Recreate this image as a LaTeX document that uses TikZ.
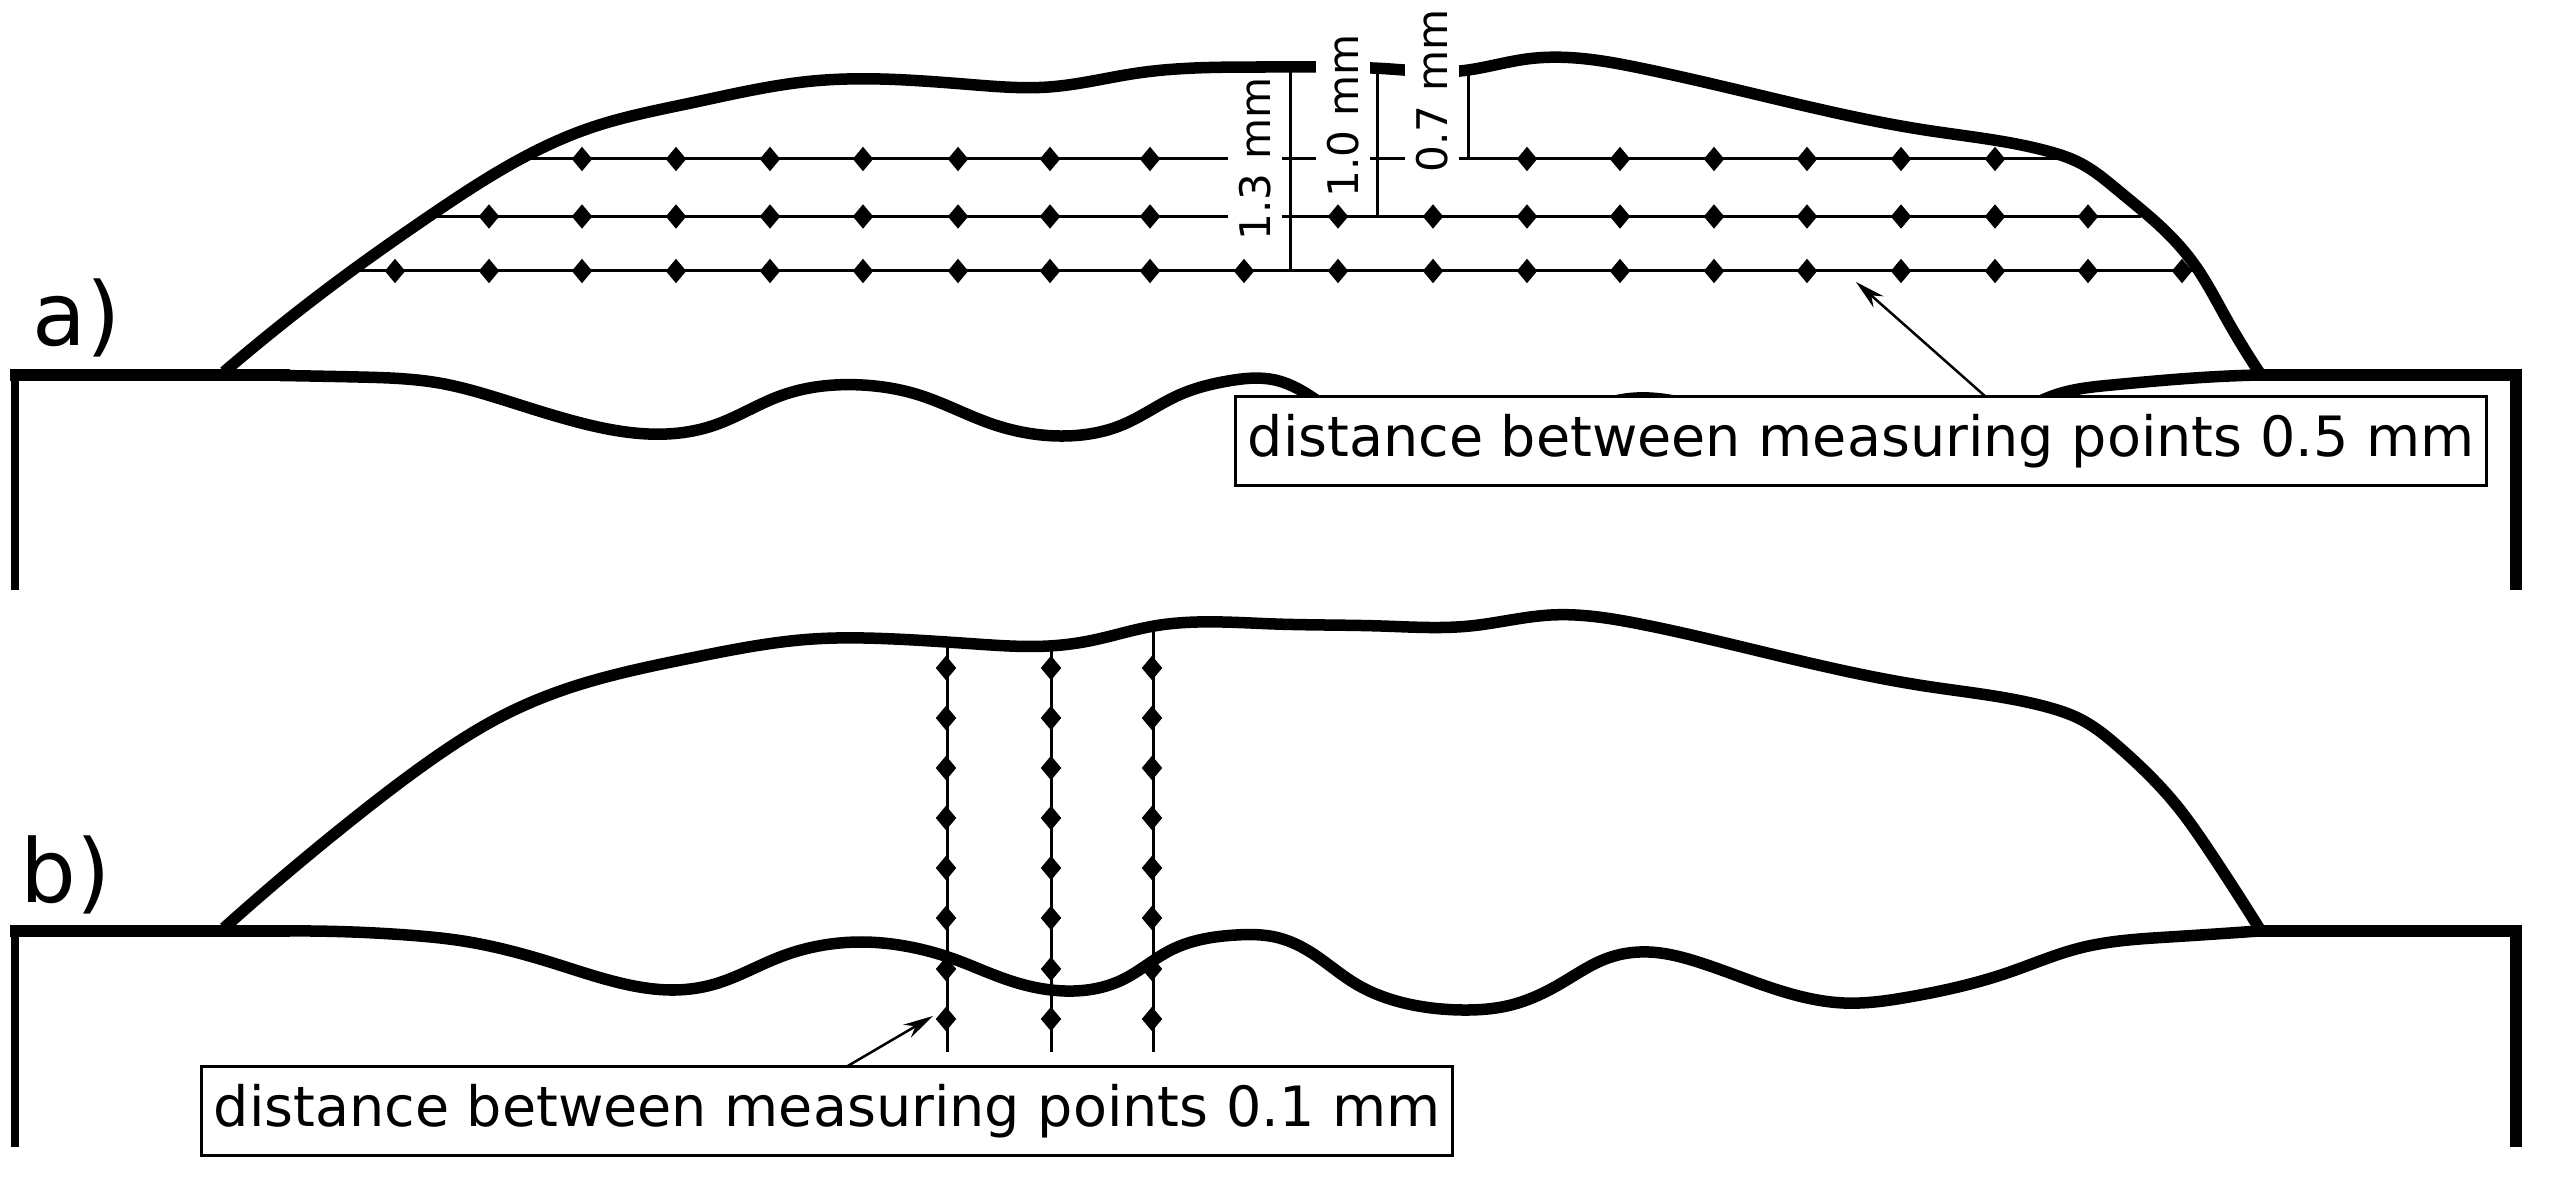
\documentclass[tikz,border=0pt]{standalone}
\usepackage{fontspec}
\setmainfont{DejaVu Sans}
\usetikzlibrary{shapes.geometric,arrows.meta,hobby}
\tikzset{
  bead/.style={use Hobby shortcut,line width=0.115cm,line join=round,line cap=butt},
  plate/.style={line width=0.12cm,line join=miter},
  thin line/.style={line width=0.03cm},
  dot/.style={diamond,fill=black,draw=none,inner sep=0pt,minimum width=0.21cm,minimum height=0.25cm},
  depth label/.style={rotate=90,fill=white,inner xsep=0.02cm,inner ysep=0pt,minimum height=0.54cm,font=\fontsize{12}{14}\selectfont},
  note/.style={draw=black,line width=0.03cm,fill=white,inner sep=0pt,minimum width=12.5cm,minimum height=0.88cm,font=\fontsize{15.8}{19}\selectfont},
  panel label/.style={anchor=base west,inner sep=0pt,font=\fontsize{25}{30}\selectfont},
  pointer/.style={line width=0.025cm,-{Stealth[length=0.3cm,width=0.15cm]}}
}
\begin{document}
\begin{tikzpicture}[x=0.01cm,y=-0.01cm]
\useasboundingbox[fill=white] (0,0) rectangle (2549,1183);
% --- panel a: plate
\draw[line width=0.08cm] (15,370) -- (15,590);
\draw[plate] (10,375.5) -- (290,375.5);
\draw[plate] (2255,375.5) -- (2522,375.5);
\draw[line width=0.12cm] (2516,370) -- (2516,590);
% --- panel a: weld outline
\draw[bead] (224,372) .. (350,272) .. (431,215) .. (528,155) .. (590,128) .. (691,103) .. (813,81) .. (976,85) .. (1049,87) .. (1138,73) .. (1195,68) .. (1275,67) .. (1390,69) .. (1460,71) .. (1527,59) .. (1576,58) .. (1640,68) .. (1763,96) .. (1925,130) .. (2047,151) .. (2080,163) .. (2120,192) .. (2160,226) .. (2194,264) .. (2226,318) .. (2259,372);
\draw[bead] (280,375.5) .. (358,377) .. (439,383) .. (504,400) .. (585,424) .. (667,434) .. (715,425) .. (780,396) .. (862,385) .. (919,395) .. (992,424) .. (1065,436) .. (1122,425) .. (1179,395) .. (1228,381) .. (1275,380) .. (1307,394) .. (1356,428) .. (1413,449) .. (1462,454) .. (1511,449) .. (1560,428) .. (1605,404) .. (1649,398) .. (1695,406) .. (1795,439) .. (1844,447) .. (1909,441) .. (2007,417) .. (2055,395) .. (2112,385) .. (2210,377) .. (2259,375);
% --- panel a: measuring lines
\draw[thin line] (528,159) -- (2064,159);
\draw[thin line] (431,216.5) -- (2141,216.5);
\draw[thin line] (354,271) -- (2194,271);
\coordinate (t13) at (1290,68);
\coordinate (b13) at (1290,271);
\coordinate (t10) at (1377,70);
\coordinate (b10) at (1377,216.5);
\coordinate (t07) at (1468,72);
\coordinate (b07) at (1468,159);
\draw[thin line] (t13) -- (b13);
\draw[thin line] (t10) -- (b10);
\draw[thin line] (t07) -- (b07);
\node[depth label] (d13) at (1255,159) {1.3 mm};
\node[depth label] (d10) at (1343,116) {1.0 mm};
\node[depth label] (d07) at (1432,91) {0.7 mm};
\foreach \x in {582,676,770,863,958,1050,1150,1527,1620,1714,1807,1901,1995}
  \node[dot] (ra-\x) at (\x,159) {};
\foreach \x in {489,582,676,770,863,958,1050,1150,1338,1433,1527,1620,1714,1807,1901,1995,2088}
  \node[dot] (rb-\x) at (\x,216.5) {};
\foreach \x in {395,489,582,676,770,863,958,1050,1150,1244,1338,1433,1527,1620,1714,1807,1901,1995,2088,2182}
  \node[dot] (rc-\x) at (\x,271) {};
\node[panel label] (la) at (32,346) {a)};
\node[note] (boxa) at (1861,441) {distance between measuring points 0.5 mm};
\coordinate (atail) at (1986,397);
\coordinate (atip) at (1856,282);
\draw[pointer] (atail) -- (atip);
% --- panel b: plate
\draw[line width=0.08cm] (15,926) -- (15,1147);
\draw[plate] (10,931) -- (290,931);
\draw[plate] (2255,931) -- (2522,931);
\draw[line width=0.12cm] (2516,926) -- (2516,1147);
% --- panel b: weld outline
\draw[bead] (224,928) .. (358,815) .. (431,760) .. (504,715) .. (569,688) .. (691,658) .. (813,639) .. (894,639) .. (976,644) .. (1049,646) .. (1089,641) .. (1154,626) .. (1275,624) .. (1381,626) .. (1470,626) .. (1551,615) .. (1640,624) .. (1763,652) .. (1925,686) .. (2047,707) .. (2080,719) .. (2120,748) .. (2177,806) .. (2210,852) .. (2259,928);
\draw[bead] (280,931) .. (407,935) .. (463,941) .. (553,963) .. (634,986) .. (675,990) .. (715,984) .. (780,957) .. (862,942) .. (905,946) .. (951,958) .. (1008,980) .. (1065,991) .. (1122,980) .. (1171,950) .. (1236,935) .. (1275,937) .. (1307,950) .. (1356,984) .. (1413,1005) .. (1462,1010) .. (1511,1005) .. (1560,984) .. (1608,958) .. (1649,952) .. (1698,962) .. (1795,995) .. (1844,1003) .. (1909,997) .. (2007,973) .. (2080,948) .. (2169,937) .. (2259,931);
% --- panel b: measuring lines
\coordinate (v1t) at (947,640);
\coordinate (v1b) at (947,1052);
\coordinate (v2t) at (1051,645);
\coordinate (v2b) at (1051,1052);
\coordinate (v3t) at (1153,630);
\coordinate (v3b) at (1153,1052);
\draw[thin line] (v1t) -- (v1b);
\draw[thin line] (v2t) -- (v2b);
\draw[thin line] (v3t) -- (v3b);
\foreach \y in {668,718,768,818,868,918,969,1019} {
  \node[dot] (pa-\y) at (946,\y) {};
  \node[dot] (pb-\y) at (1051,\y) {};
  \node[dot] (pc-\y) at (1152,\y) {};
}
\node[panel label] (lb) at (20,902) {b)};
\node[note] (boxb) at (827,1111) {distance between measuring points 0.1 mm};
\coordinate (btail) at (846,1067);
\coordinate (btip) at (933,1016);
\draw[pointer] (btail) -- (btip);
\end{tikzpicture}
\end{document}
